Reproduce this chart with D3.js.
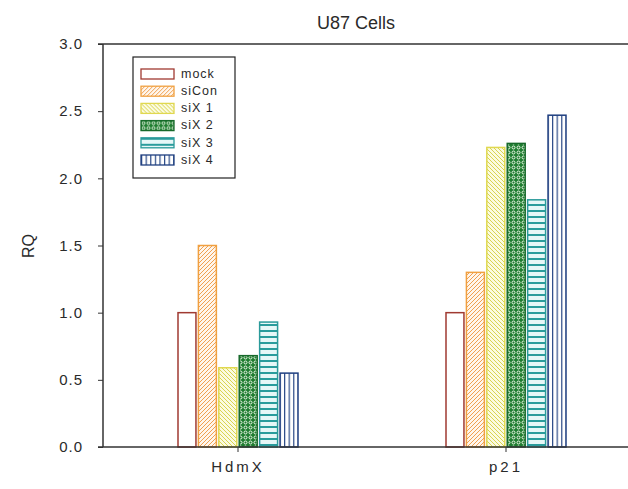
<!DOCTYPE html>
<html>
<head>
<meta charset="utf-8">
<script src="https://cdn.jsdelivr.net/npm/d3@7"></script>
<style>
  html, body { margin: 0; padding: 0; background: #fff; }
  svg { display: block; font-family: "Liberation Sans", Arial, sans-serif; }
</style>
</head>
<body>
<svg id="chart" width="628" height="489"></svg>
<script>
// Relative quantity (RQ) of HdmX and p21 transcripts in U87 cells
const categories = ["HdmX", "p21"];
const series = ["mock", "siCon", "siX1", "siX2", "siX3", "siX4"];
const seriesLabels = ["mock", "siCon", "siX 1", "siX 2", "siX 3", "siX 4"];
const values = {
  mock:  [1.00, 1.00],
  siCon: [1.50, 1.30],
  siX1:  [0.59, 2.23],
  siX2:  [0.68, 2.26],
  siX3:  [0.93, 1.84],
  siX4:  [0.55, 2.47]
};
const yTicks = [0, 0.5, 1.0, 1.5, 2.0, 2.5, 3.0];

const svg = d3.select("#chart");
const axisX = 103, topY = 44, baseY = 447, rightX = 628;
const ink = "#2a2a2a";

// hatch fills for each series
const defs = svg.append("defs");
function pattern(id, w, h) {
  return defs.append("pattern").attr("id", id)
    .attr("patternUnits", "userSpaceOnUse").attr("width", w).attr("height", h);
}
// siCon: orange "/" hatch
let p = pattern("p-siCon", 4, 4);
p.append("rect").attr("width", 4).attr("height", 4).attr("fill", "#fff6ec");
p.append("path").attr("d", "M-1,1 L1,-1 M0,4 L4,0 M3,5 L5,3")
  .attr("stroke", "#f0a050").attr("stroke-width", 1);
// siX1: yellow "\" hatch
p = pattern("p-siX1", 4, 4);
p.append("rect").attr("width", 4).attr("height", 4).attr("fill", "#fbfbe0");
p.append("path").attr("d", "M-1,3 L1,5 M0,0 L4,4 M3,-1 L5,1")
  .attr("stroke", "#d9d450").attr("stroke-width", 1);
// siX2: dark green with light rings
p = pattern("p-siX2", 5, 5);
p.append("rect").attr("width", 5).attr("height", 5).attr("fill", "#1f7d30");
p.append("circle").attr("cx", 2.5).attr("cy", 2.5).attr("r", 1.5)
  .attr("fill", "none").attr("stroke", "#eef8e8").attr("stroke-width", 1);
// siX3: teal horizontal lines
p = pattern("p-siX3", 6, 6);
p.append("rect").attr("width", 6).attr("height", 6).attr("fill", "#e6f7f7");
p.append("rect").attr("y", 0).attr("width", 6).attr("height", 2).attr("fill", "#2a9c9c");
// siX4: navy vertical lines
p = pattern("p-siX4", 4.6, 4);
p.append("rect").attr("width", 4.6).attr("height", 4).attr("fill", "#fff");
p.append("rect").attr("x", 0).attr("width", 1.2).attr("height", 4).attr("fill", "#2a4a86");

const strokes = {
  mock: "#a03a32", siCon: "#f0a040", siX1: "#e0d850",
  siX2: "#17692a", siX3: "#2a9a9a", siX4: "#1f3f80"
};
const fills = {
  mock: "#ffffff", siCon: "url(#p-siCon)", siX1: "url(#p-siX1)",
  siX2: "url(#p-siX2)", siX3: "url(#p-siX3)", siX4: "url(#p-siX4)"
};

// scales
const x = d3.scaleBand().domain(categories).range([104, 640]).padding(0);
const xi = d3.scaleBand().domain(series).range([-60, 60]).paddingInner(0.12);
const y = d3.scaleLinear().domain([0, 3]).range([baseY, topY]);

// title
svg.append("text").attr("x", 356).attr("y", 29).attr("text-anchor", "middle")
  .attr("font-size", 18).attr("fill", ink).text("U87 Cells");

// y axis
const yAxis = svg.append("g").attr("transform", `translate(${axisX},0)`)
  .call(d3.axisLeft(y).tickValues(yTicks).tickFormat(d3.format(".1f"))
    .tickSize(5).tickPadding(15));
yAxis.select(".domain").remove();
yAxis.selectAll(".tick line").attr("stroke", "#333");
yAxis.selectAll(".tick text").attr("font-size", 15).attr("fill", ink)
  .attr("letter-spacing", "1px").attr("font-family", "Liberation Sans, Arial, sans-serif");

svg.append("text")
  .attr("transform", "translate(30,246) rotate(-90)")
  .attr("text-anchor", "middle").attr("dominant-baseline", "middle")
  .attr("font-size", 16).attr("fill", ink).text("RQ");

// bars
const groups = svg.append("g").selectAll("g").data(categories).join("g")
  .attr("transform", d => `translate(${x(d) + x.bandwidth() / 2},0)`);
groups.selectAll("rect")
  .data((c, ci) => series.map(s => ({ s, v: values[s][ci] })))
  .join("rect")
  .attr("x", d => xi(d.s))
  .attr("width", xi.bandwidth())
  .attr("y", d => y(d.v))
  .attr("height", d => baseY - y(d.v))
  .attr("fill", d => fills[d.s])
  .attr("stroke", d => strokes[d.s])
  .attr("stroke-width", 1.5);

// frame lines
svg.append("line").attr("x1", axisX - 5).attr("x2", rightX).attr("y1", topY).attr("y2", topY)
  .attr("stroke", "#333").attr("stroke-width", 1.5);
svg.append("line").attr("x1", axisX - 5).attr("x2", rightX).attr("y1", baseY).attr("y2", baseY)
  .attr("stroke", "#333").attr("stroke-width", 1.5);
svg.append("line").attr("x1", axisX).attr("x2", axisX).attr("y1", topY).attr("y2", baseY)
  .attr("stroke", "#333").attr("stroke-width", 1.5);

// x axis
const xAxis = svg.append("g").attr("transform", `translate(0,${baseY})`)
  .call(d3.axisBottom(x).tickSize(5).tickPadding(9));
xAxis.select(".domain").remove();
xAxis.selectAll(".tick line").attr("stroke", "#333");
xAxis.selectAll(".tick text").attr("font-size", 15).attr("fill", ink)
  .attr("letter-spacing", "3px").attr("font-family", "Liberation Sans, Arial, sans-serif");

// legend
const lg = svg.append("g").attr("transform", "translate(133,57)");
lg.append("rect").attr("width", 102).attr("height", 121)
  .attr("fill", "#fff").attr("stroke", "#222").attr("stroke-width", 1.2);
const rows = lg.selectAll("g.row").data(series).join("g").attr("class", "row")
  .attr("transform", (d, i) => `translate(8,${12 + i * 17.2})`);
rows.append("rect").attr("width", 33).attr("height", 10)
  .attr("fill", d => fills[d]).attr("stroke", d => strokes[d]).attr("stroke-width", 1.3);
rows.append("text").attr("x", 40).attr("y", 5.5).attr("dominant-baseline", "middle")
  .attr("font-size", 12.5).attr("letter-spacing", "1px").attr("fill", ink)
  .text((d, i) => seriesLabels[i]);
</script>
</body>
</html>
